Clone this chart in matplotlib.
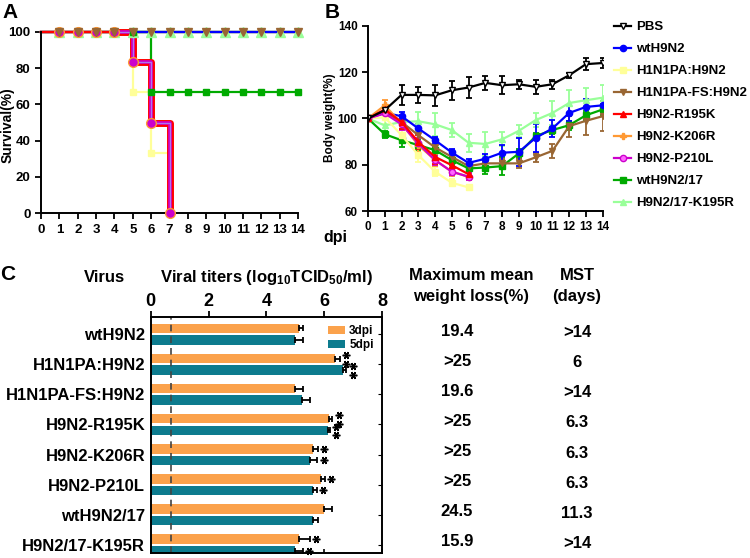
import matplotlib.pyplot as plt
from matplotlib.lines import Line2D
from matplotlib.transforms import blended_transform_factory
import numpy as np

plt.rcParams['font.family'] = ['Liberation Sans', 'DejaVu Sans']
plt.rcParams['font.weight'] = 'bold'
plt.rcParams['axes.labelweight'] = 'bold'
plt.rcParams['axes.linewidth'] = 1.4
plt.rcParams['mathtext.fontset'] = 'custom'
plt.rcParams['mathtext.rm'] = 'Liberation Sans:bold'
plt.rcParams['mathtext.bf'] = 'Liberation Sans:bold'
plt.rcParams['mathtext.default'] = 'bf'

# groups (panels A and B)
groups = ['PBS', 'wtH9N2', 'H1N1PA:H9N2', 'H1N1PA-FS:H9N2', 'H9N2-R195K',
          'H9N2-K206R', 'H9N2-P210L', 'wtH9N2/17', 'H9N2/17-K195R']
colors = ['#000000', '#0000FF', '#FFFF99', '#996633', '#FF0000',
          '#FF9933', '#CC00CC', '#00AA00', '#99FF99']
markers = ['v', 'o', 's', 'v', '^', 'P', 'o', 's', '^']
faces = ['white', '#0000FF', '#FFFF99', '#996633', '#FF0000',
         '#FF9933', '#FF66FF', '#00AA00', '#99FF99']

# survival (%) per day
surv = {
    'PBS':            [100, 100, 100, 100, 100, 100, 100, 100, 100, 100, 100, 100, 100, 100, 100],
    'wtH9N2':         [100, 100, 100, 100, 100, 100, 100, 100, 100, 100, 100, 100, 100, 100, 100],
    'H1N1PA:H9N2':    [100, 100, 100, 100, 100, 66.7, 33.3, 0],
    'H1N1PA-FS:H9N2': [100, 100, 100, 100, 100, 100, 100, 100, 100, 100, 100, 100, 100, 100, 100],
    'H9N2-R195K':     [100, 100, 100, 100, 100, 83.3, 50, 0],
    'H9N2-K206R':     [100, 100, 100, 100, 100, 83.3, 50, 0],
    'H9N2-P210L':     [100, 100, 100, 100, 100, 83.3, 50, 0],
    'wtH9N2/17':      [100, 100, 100, 100, 100, 100, 66.7, 66.7, 66.7, 66.7, 66.7, 66.7, 66.7, 66.7, 66.7],
    'H9N2/17-K195R':  [100, 100, 100, 100, 100, 100, 100, 100, 100, 100, 100, 100, 100, 100, 100],
}

# body weight (%) mean and error per day
weight = {
    'PBS':            [100, 103.6, 110.2, 110.2, 110, 112.2, 113.4, 115.4, 114.4, 114.8, 113.7, 114.8, 118.7, 123.5, 124],
    'wtH9N2':         [100, 102.4, 101, 95.7, 90.6, 85.3, 80.8, 82.6, 85.2, 85.6, 91.6, 95.7, 102.4, 105, 105.7],
    'H1N1PA:H9N2':    [100, 100.5, 92.8, 84.2, 77, 72.2, 70.2],
    'H1N1PA-FS:H9N2': [100, 102.9, 98.5, 92.8, 87.5, 83.4, 79.4, 80.6, 80.6, 80.6, 83.2, 86, 96.7, 99, 101],
    'H9N2-R195K':     [100, 103.9, 98.5, 89.9, 83.4, 79.8, 75.9],
    'H9N2-K206R':     [100, 105.7, 97.8, 88.5, 82, 77, 74.8],
    'H9N2-P210L':     [100, 102.2, 97.5, 89.2, 82, 77, 74.8],
    'wtH9N2/17':      [100, 93.2, 90.6, 88.5, 86.3, 82, 78.4, 78.8, 79.4, 84.9, 92.4, 95, 97.1, 101.4, 103.9],
    'H9N2/17-K195R':  [100, 97, 98.5, 98.8, 97.5, 95, 89.5, 89, 91, 94.7, 99.3, 102.4, 106.7, 107.9, 109],
}
weight_err = {
    'PBS':            [0.5, 1, 4.5, 3.5, 4.5, 4, 4.5, 3, 4, 2, 3, 2, 1, 2.5, 2],
    'wtH9N2':         [0.5, 1.5, 2, 2, 1.5, 1.5, 1.5, 2, 3.5, 6, 6, 3.5, 3.5, 3.5, 3],
    'H1N1PA:H9N2':    [0.5, 3, 3, 3, 2, 1.5, 1],
    'H1N1PA-FS:H9N2': [0.5, 2, 2, 2.5, 2.5, 2.5, 2, 1.5, 2, 2, 2, 3, 4.5, 6, 6.5],
    'H9N2-R195K':     [0.5, 2, 3, 3, 3, 2, 1.5],
    'H9N2-K206R':     [0.5, 2.5, 2.5, 3, 2.5, 2, 1.5],
    'H9N2-P210L':     [0.5, 1.5, 2.5, 2.5, 2, 1.5, 1.5],
    'wtH9N2/17':      [0.5, 1.5, 3, 2, 2, 2, 2, 3, 4, 2, 1.5, 1.5, 2, 2, 2.5],
    'H9N2/17-K195R':  [0.5, 3, 3, 4, 5, 3, 4, 5, 3, 2.5, 3, 5, 5.5, 5.5, 5.5],
}

# panel C
viruses = ['wtH9N2', 'H1N1PA:H9N2', 'H1N1PA-FS:H9N2', 'H9N2-R195K',
           'H9N2-K206R', 'H9N2-P210L', 'wtH9N2/17', 'H9N2/17-K195R']
titer_3dpi = [5.13, 6.38, 4.99, 6.18, 5.63, 5.88, 6.0, 5.13]
err_3dpi = [0.13, 0.17, 0.27, 0.10, 0.14, 0.15, 0.27, 0.38]
titer_5dpi = [4.99, 6.64, 5.24, 6.12, 5.51, 5.63, 5.63, 4.99]
err_5dpi = [0.29, 0.12, 0.27, 0.08, 0.25, 0.12, 0.14, 0.27]
stars_3dpi = [0, 2, 0, 2, 1, 1, 0, 1]
stars_5dpi = [0, 2, 0, 2, 1, 1, 0, 1]
detection_limit = 0.7
weight_loss = ['19.4', '>25', '19.6', '>25', '>25', '>25', '24.5', '15.9']
mst = ['>14', '6', '>14', '6.3', '6.3', '6.3', '11.3', '>14']

fig = plt.figure(figsize=(7.5, 5.58), dpi=100)
W, H = 750.0, 558.0


def fx(px):
    return px / W


def fy(py):
    return 1 - py / H


# ---------------- Panel A ----------------
axA = fig.add_axes([fx(41), fy(213.3), 257 / W, 181.6 / H])
order_A = ['PBS', 'H9N2/17-K195R', 'H1N1PA-FS:H9N2', 'wtH9N2/17', 'wtH9N2',
           'H1N1PA:H9N2', 'H9N2-K206R', 'H9N2-P210L', 'H9N2-R195K']
for g in order_A:
    i = groups.index(g)
    s = surv[g]
    d = np.arange(len(s))
    axA.step(d, s, where='post', color=colors[i], lw=1.6, clip_on=False)
# overlapping curves of the three fatal groups
for g, lw, col in [('H9N2-R195K', 5, '#FF0000'), ('H9N2-P210L', 2.6, '#CC00CC'),
                   ('H9N2-K206R', 0.9, '#AA77EE')]:
    s = surv[g]
    d = np.arange(len(s))
    axA.step(d[4:], s[4:], where='post', color=col, lw=lw, clip_on=False)
for g in ['H9N2/17-K195R', 'wtH9N2/17', 'H1N1PA:H9N2', 'H9N2-R195K',
          'H9N2-K206R', 'H9N2-P210L', 'H1N1PA-FS:H9N2']:
    i = groups.index(g)
    s = surv[g]
    d = np.arange(len(s))
    ms = {'H9N2-K206R': 7, 'H9N2/17-K195R': 6.5, 'H1N1PA-FS:H9N2': 6}.get(g, 5)
    mk = 'o' if g == 'H9N2-K206R' else markers[i]
    axA.plot(d[1:], s[1:], ls='none', marker=mk, ms=ms, color=colors[i],
             mfc=colors[i], mec=colors[i], zorder=5, clip_on=False)
axA.set_xlim(0, 14)
axA.set_ylim(0, 100)
axA.set_xticks(range(15))
axA.set_yticks([0, 20, 40, 60, 80, 100])
axA.tick_params(labelsize=9.5, width=1.3, length=4)
axA.spines['top'].set_visible(False)
axA.spines['right'].set_visible(False)
fig.text(fx(8), fy(125), 'Survival(%)', rotation=90, ha='center', va='center', fontsize=10)

# ---------------- Panel B ----------------
axB = fig.add_axes([fx(368), fy(211), 234.7 / W, 185 / H])
order_B = ['H9N2/17-K195R', 'wtH9N2/17', 'H1N1PA-FS:H9N2', 'wtH9N2', 'H1N1PA:H9N2',
           'H9N2-K206R', 'H9N2-P210L', 'H9N2-R195K', 'PBS']
for g in order_B:
    i = groups.index(g)
    m = weight[g]
    d = np.arange(len(m))
    axB.errorbar(d, m, yerr=weight_err[g], color=colors[i], marker=markers[i],
                 mfc=faces[i], mec=colors[i], ms=4.5, lw=1.6, elinewidth=1.3,
                 capsize=2.5, capthick=1.3)
axB.set_xlim(0, 14)
axB.set_ylim(60, 140)
axB.set_xticks(range(15))
axB.set_yticks([60, 80, 100, 120, 140])
axB.tick_params(labelsize=8.5, width=1.3, length=4)
axB.spines['top'].set_visible(False)
axB.spines['right'].set_visible(False)
fig.text(fx(330), fy(118), 'Body weight(%)', rotation=90, ha='center', va='center', fontsize=8.5)
fig.text(fx(335), fy(238), 'dpi', ha='center', va='center', fontsize=11.5)

handles = [Line2D([], [], color=colors[i], marker=markers[i], mfc=faces[i],
                  mec=colors[i], ms=4.5, lw=1.6) for i in range(len(groups))]
fig.legend(handles, groups, loc='upper left', bbox_to_anchor=(fx(614), fy(21)),
           frameon=False, fontsize=9.5, handlelength=1.3, handletextpad=0.4,
           labelspacing=0.74, borderpad=0, borderaxespad=0)

# ---------------- Panel C ----------------
axC = fig.add_axes([fx(150.7), fy(553), 231.3 / W, 236 / H])
y = np.arange(len(viruses))
off = 0.19
bh = 0.31
c3 = '#FBA24C'
c5 = '#0D7B8E'
axC.barh(y - off, titer_3dpi, height=bh, color=c3, label='3dpi')
axC.barh(y + off, titer_5dpi, height=bh, color=c5, label='5dpi')
axC.errorbar(titer_3dpi, y - off, xerr=[np.zeros(len(y)), err_3dpi], fmt='none',
             ecolor='black', elinewidth=1.3, capsize=2, capthick=1.3)
axC.errorbar(titer_5dpi, y + off, xerr=[np.zeros(len(y)), err_5dpi], fmt='none',
             ecolor='black', elinewidth=1.3, capsize=2, capthick=1.3)
# significance asterisks, stacked vertically
star = (6, 2, 90)
for k in range(len(viruses)):
    for val, er, n, yy in ((titer_3dpi[k], err_3dpi[k], stars_3dpi[k], y[k] - off),
                           (titer_5dpi[k], err_5dpi[k], stars_5dpi[k], y[k] + off)):
        if n == 1:
            sy = [yy]
        elif n == 2:
            sy = [yy - 0.12, yy + 0.17]
        else:
            continue
        axC.plot([val + er + 0.22] * n, sy, ls='none', marker=star, ms=5.5,
                 mew=1.1, color='black', clip_on=False)
axC.axvline(detection_limit, color='#444444', ls=(0, (4, 3)), lw=1.2)
axC.set_xlim(0, 8)
axC.set_ylim(7.27, -0.57)
axC.set_xticks([0, 2, 4, 6, 8])
axC.xaxis.tick_top()
axC.tick_params(axis='x', labelsize=13, width=1.3, length=4, pad=1)
axC.set_yticks(y)
axC.set_yticklabels(viruses, fontsize=12)
axC.tick_params(axis='y', left=False, right=True, direction='in', length=3, pad=4)
sec = axC.secondary_xaxis('bottom')
sec.set_xticks([0, 2, 4, 6, 8])
sec.tick_params(direction='in', length=3, width=1.2, labelbottom=False)
sec.spines['bottom'].set_visible(False)
axC.legend(loc='upper right', bbox_to_anchor=(1.0, 1.0), frameon=False, fontsize=8.5,
           handlelength=1.4, handleheight=0.7, handletextpad=0.4, labelspacing=0.15,
           borderaxespad=0.3)

tr = blended_transform_factory(fig.transFigure, axC.transData)
for k in range(len(viruses)):
    fig.text(fx(457), y[k] - 0.1, weight_loss[k], ha='center', va='center',
             fontsize=12, transform=tr)
    fig.text(fx(577), y[k] - 0.05, mst[k], ha='center', va='center',
             fontsize=12, transform=tr)

fig.text(fx(8), fy(275), 'C', ha='center', va='center', fontsize=15)
fig.text(fx(104), fy(277), 'Virus', ha='center', va='center', fontsize=12)
fig.text(fx(267), fy(277), r'Viral titers (log$_{10}$TCID$_{50}$/ml)', ha='center',
         va='center', fontsize=12)
fig.text(fx(471), fy(276), 'Maximum mean', ha='center', va='center', fontsize=12)
fig.text(fx(471), fy(296), 'weight loss(%)', ha='center', va='center', fontsize=12)
fig.text(fx(577), fy(276), 'MST', ha='center', va='center', fontsize=12)
fig.text(fx(577), fy(296), '(days)', ha='center', va='center', fontsize=12)

fig.text(fx(10), fy(12), 'A', ha='center', va='center', fontsize=15)
fig.text(fx(332), fy(12), 'B', ha='center', va='center', fontsize=15)

fig.savefig('out.png', dpi=100)
